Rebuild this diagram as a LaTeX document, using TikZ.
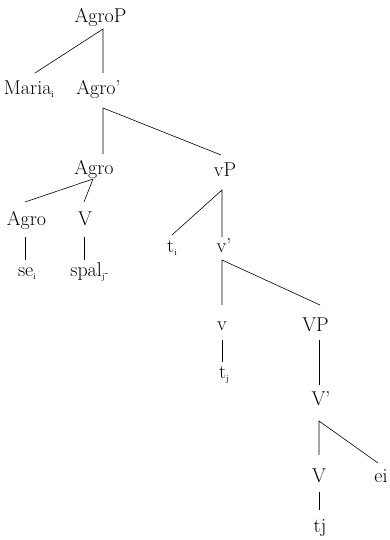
\documentclass[tikz,border=0pt]{standalone}
\newcommand\sbs[1]{\raisebox{-3pt}{\fontsize{9}{9}\selectfont #1}}
\begin{document}
\begin{tikzpicture}[x=1pt,y=-1pt,
  lab/.style={inner sep=0pt,anchor=base,font=\fontsize{20}{22}\selectfont},
  edge/.style={line width=0.6pt}]
\useasboundingbox (0,0) rectangle (389,540);
\node[lab] (agrop) at (100.5,23) {AgroP};
\node[lab] (maria) at (29,95) {Maria\sbs{i}};
\node[lab] (agrob) at (98.5,95) {Agro'};
\node[lab] (agrom) at (94,175) {Agro};
\node[lab] (vP) at (225,176) {vP};
\node[lab] (agrol) at (26.5,225) {Agro};
\node[lab] (Vm) at (85,225) {V};
\node[lab] (se) at (27,276) {se\sbs{i}};
\node[lab] (spal) at (89.5,276) {spal\sbs{j}{\fontsize{12}{12}\selectfont -}};
\node[lab] (ti) at (172,252) {t\sbs{i}};
\node[lab] (vb) at (224,252) {v'};
\node[lab] (v) at (222,330) {v};
\node[lab] (VP) at (315.5,331) {VP};
\node[lab] (tj1) at (224,378) {t\sbs{j}};
\node[lab] (Vb) at (321,405) {V'};
\node[lab] (V) at (319,482) {V};
\node[lab] (ei) at (381,482) {ei};
\node[lab] (tj2) at (320,532) {tj};

\draw[edge] ([xshift=6pt,yshift=22pt]maria.base) -- ([xshift=2.5pt,yshift=-6pt]agrop.base)
  -- ([xshift=4.5pt,yshift=22pt]agrob.base);
\draw[edge] ([xshift=9pt,yshift=21pt]agrom.base) -- ([xshift=4.5pt,yshift=-13pt]agrob.base)
  -- ([xshift=-4pt,yshift=21pt]vP.base);
\draw[edge] ([xshift=-1.5pt,yshift=23pt]agrol.base) -- ([xshift=-1pt,yshift=-4pt]agrom.base)
  -- ([xshift=-1pt,yshift=23pt]Vm.base);
\draw[edge] ([xshift=-1.5pt,yshift=-12pt]agrol.base) -- ([xshift=-2pt,yshift=16pt]se.base);
\draw[edge] ([xshift=-1pt,yshift=-12pt]Vm.base) -- ([xshift=-5.5pt,yshift=16pt]spal.base);
\draw[edge] ([yshift=17pt]ti.base) -- ([xshift=-3pt,yshift=-14pt]vP.base)
  -- ([xshift=-2pt,yshift=15pt]vb.base);
\draw[edge] ([yshift=25pt]v.base) -- ([xshift=-2pt,yshift=-8pt]vb.base)
  -- ([xshift=4.5pt,yshift=26pt]VP.base);
\draw[edge] ([yshift=-10pt]v.base) -- ([xshift=-2pt,yshift=16pt]tj1.base);
\draw[edge] ([xshift=3.5pt,yshift=-9pt]VP.base) -- ([xshift=-2pt,yshift=20pt]Vb.base);
\draw[edge] ([yshift=27pt]V.base) -- ([xshift=-2pt,yshift=-16pt]Vb.base)
  -- ([xshift=-3pt,yshift=19pt]ei.base);
\draw[edge] ([yshift=-10pt]V.base) -- ([xshift=-1pt,yshift=22pt]tj2.base);
\end{tikzpicture}
\end{document}
